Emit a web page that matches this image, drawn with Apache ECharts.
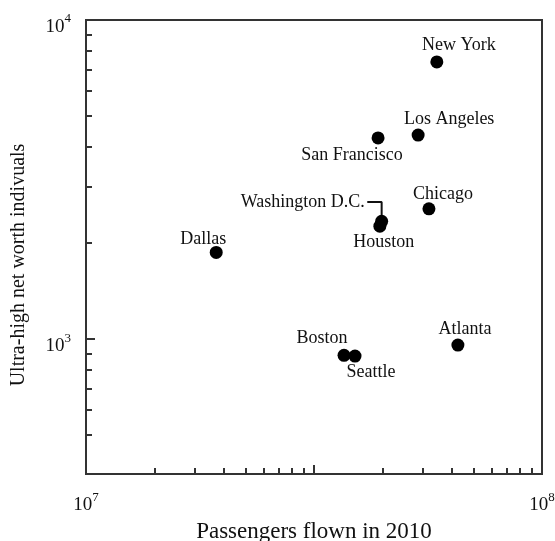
<!DOCTYPE html>
<html>
<head>
<meta charset="utf-8">
<script src="https://cdn.jsdelivr.net/npm/echarts@6/dist/echarts.min.js"></script>
<style>
  html, body { margin: 0; padding: 0; background: #fff; width: 100%; height: 100%; overflow: hidden; }
  #chart { width: 100%; height: 100%; }
</style>
</head>
<body>
<div id="chart"></div>
<script>
// data
const cities = ['New York', 'Los Angeles', 'San Francisco', 'Chicago', 'Washington D.C.',
  'Houston', 'Dallas', 'Boston', 'Seattle', 'Atlanta']
const passengers = [5.88e7, 5.35e7, 4.37e7, 5.65e7, 4.45e7, 4.41e7, 1.93e7, 3.68e7, 3.89e7, 6.54e7]
const ultraRich = [7390, 4360, 4270, 2560, 2340, 2260, 1870, 890, 885, 958]

// axis ticks
const xLabelValues = [1e7, 1e8]
const xMajorTicks = [10]
const xMinorTicks = [2, 3, 4, 5, 6, 7, 8, 9, 20, 30, 40, 50, 60, 70, 80, 90]
const yLabelValues = [1000, 10000]
const yMinorTicks = [500, 600, 700, 800, 900, 2000, 3000, 4000, 5000, 6000, 7000, 8000, 9000]

// label placement (pixels, relative to the dot)
const labelOffsets = [[22, -17], [31, -16], [-26, 17], [14, -15], [-79, -19],
  [4, 16], [-13, -13], [-22, -17], [16, 16], [7, -16]]

const font = 'Liberation Serif'
const ink = '#111'
const axisColor = '#333'

const powRich = {
  b: { fontFamily: font, fontSize: 19, color: ink, lineHeight: 24, verticalAlign: 'bottom' },
  s: { fontFamily: font, fontSize: 13, color: ink, lineHeight: 24, verticalAlign: 'top' }
}
const powFormat = v => '{b|10}{s|' + Math.round(Math.log10(v)) + '}'

const wi = cities.indexOf('Washington D.C.')
const leader = [
  [passengers[wi], ultraRich[wi]],
  [passengers[wi], ultraRich[wi] * 1.15],
  [passengers[wi] * 0.93, ultraRich[wi] * 1.15]
]

const points = cities.map((c, i) => ({
  name: c,
  value: [passengers[i], ultraRich[i]],
  label: { offset: labelOffsets[i] }
}))

function tickAxis(pos, min, max, values, len) {
  return {
    type: 'log', position: pos, min: min, max: max,
    axisLine: { show: false },
    axisTick: { show: true, inside: true, length: len, customValues: values, lineStyle: { color: axisColor, width: 2 } },
    axisLabel: { show: false },
    splitLine: { show: false }
  }
}

const option = {
  animation: false,
  grid: {
    left: 86, right: 13, top: 20, bottom: 67,
    outerBoundsMode: 'none',
    show: true, borderColor: axisColor, borderWidth: 2
  },
  xAxis: [
    {
      type: 'log', position: 'bottom', min: 1e7, max: 1e8,
      axisLine: { show: true, lineStyle: { color: axisColor, width: 2 } },
      axisTick: { show: false },
      splitLine: { show: false },
      axisLabel: { customValues: xLabelValues, margin: 17, formatter: powFormat, rich: powRich },
      name: 'Passengers flown in 2010',
      nameLocation: 'middle',
      nameGap: 46,
      nameTextStyle: { fontFamily: font, fontSize: 23, color: ink }
    },
    tickAxis('bottom', 1, 100, xMajorTicks, 9),
    tickAxis('bottom', 1, 100, xMinorTicks, 6)
  ],
  yAxis: [
    {
      type: 'log', position: 'left', min: 378, max: 10000,
      axisLine: { show: true, lineStyle: { color: axisColor, width: 2 } },
      axisTick: { show: true, inside: true, length: 9, customValues: yLabelValues, lineStyle: { color: axisColor, width: 2 } },
      splitLine: { show: false },
      axisLabel: { customValues: yLabelValues, margin: 15, padding: [9, 0, 0, 0], formatter: powFormat, rich: powRich },
      name: 'Ultra-high net worth indivuals',
      nameLocation: 'middle',
      nameGap: 57,
      nameTextStyle: { fontFamily: font, fontSize: 20, color: ink, padding: [0, 36, 0, 0] }
    },
    tickAxis('left', 378, 10000, yMinorTicks, 6)
  ],
  series: [
    {
      type: 'line',
      data: leader,
      showSymbol: false,
      lineStyle: { color: '#111', width: 2 },
      z: 1
    },
    {
      type: 'scatter',
      data: points,
      symbolSize: 13,
      itemStyle: { color: '#000', opacity: 1 },
      label: {
        show: true,
        position: 'inside',
        formatter: p => p.name,
        fontFamily: font,
        fontSize: 18,
        color: ink
      },
      z: 3
    }
  ]
}

const chart = echarts.init(document.getElementById('chart'))
chart.setOption(option)
</script>
</body>
</html>
